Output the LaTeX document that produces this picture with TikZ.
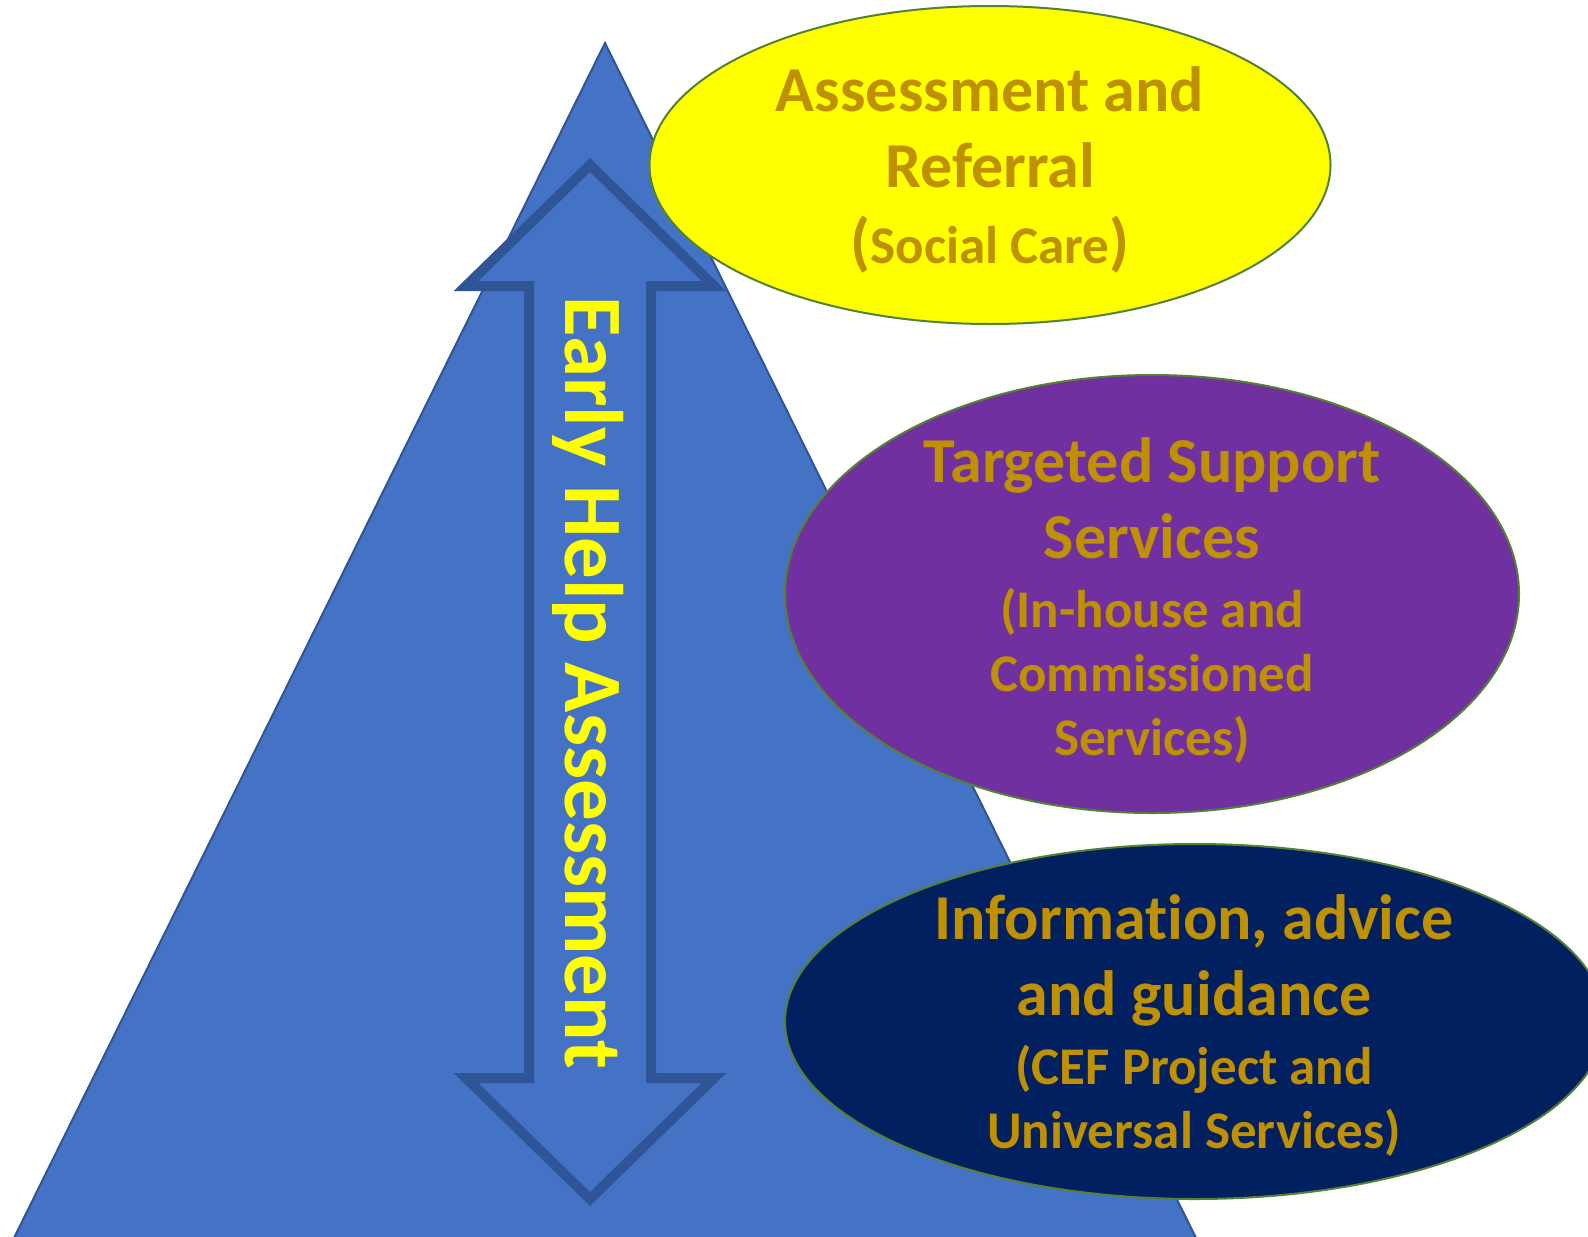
\documentclass[tikz,border=0pt]{standalone}
\usepackage{fontspec}
\setmainfont{Carlito}[Ligatures=NoCommon]
\definecolor{pyramidblue}{RGB}{68, 114, 196}
\definecolor{arrowblue}{RGB}{47, 85, 151}
\definecolor{edgegreen}{RGB}{84, 130, 53}
\definecolor{labelgold}{RGB}{191, 144, 0}
\definecolor{referyellow}{RGB}{255, 255, 0}
\definecolor{targetpurple}{RGB}{112, 48, 160}
\definecolor{infonavy}{RGB}{0, 32, 96}
\usetikzlibrary{shapes.geometric}
\newcommand{\bigline}{\fontsize{32}{38}\selectfont}
\newcommand{\smallline}{\fontsize{26.5}{32}\selectfont}
\tikzset{
  bubble/.style={ellipse, draw=edgegreen, line width=1pt, inner sep=0pt},
  bubbletext/.style={text=labelgold, font=\bfseries\bigline, align=center, inner sep=0pt}
}

\begin{document}
\begin{tikzpicture}[x=0.5pt, y=-0.5pt]
  \useasboundingbox (0,0) rectangle (1588,1236);

  % Pyramid
  \draw[fill=pyramidblue, draw=arrowblue, line width=1pt] (605,43) -- (1200,1246) -- (10,1246) -- cycle;

  % Two-way arrow
  \draw[fill=pyramidblue, draw=arrowblue, line width=5pt] (590,165) -- (714,286) -- (651,286) -- (651,1078) -- (714,1078) -- (590,1199) -- (466,1078) -- (529,1078) -- (529,286) -- (466,286) -- cycle;
  \node[rotate=-90, text=referyellow, font=\bfseries\fontsize{41.5}{48}\selectfont, inner sep=0pt] (eha) at (588,683) {Early Help Assessment};

  % Levels
  \node[bubble, fill=referyellow, minimum width=340.5pt, minimum height=159pt] (refer) at (990,165) {};
  \node[bubbletext] (refertext) at (990,170) {\bigline Assessment and\\ \bigline Referral\\ \bigline(\smallline Social Care\bigline)};

  \node[bubble, fill=targetpurple, minimum width=367pt, minimum height=219pt] (target) at (1152,594) {};
  \node[bubbletext] (targettext) at (1152,601) {\bigline Targeted Support\\ \bigline Services\\[-3.5pt] \smallline(In-house and\\[-6pt] \smallline Commissioned\\[-6pt] \smallline Services)};

  \node[bubble, fill=infonavy, minimum width=410pt, minimum height=177.5pt] (info) at (1195,1021.5) {};
  \node[bubbletext] (infotext) at (1194,1026) {\bigline Information, advice\\ \bigline and guidance\\[-3.5pt] \smallline(CEF Project and\\[-6pt] \smallline Universal Services)};
\end{tikzpicture}
\end{document}
